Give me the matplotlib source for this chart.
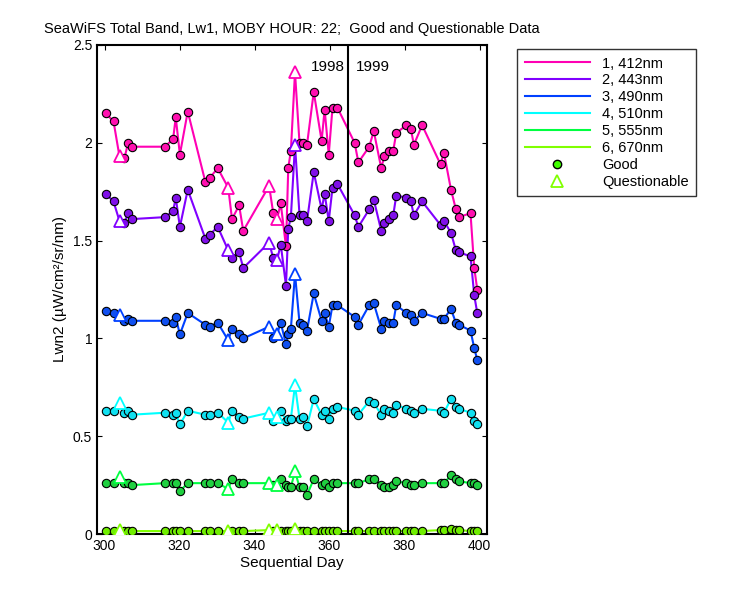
import matplotlib
matplotlib.use("Agg")
import matplotlib.pyplot as plt
import numpy as np
from matplotlib.lines import Line2D
plt.rcParams['font.family'] = 'Liberation Sans'

days = [300.3,302.4,304,305.3,306.3,307.4,316.1,318.3,319,320.1,322.2,326.9,328,330.2,333,334,335.9,337,
        343.9,345,346,347,348.4,349,349.7,350.8,352,352.8,354,355.8,357.9,358.7,359.8,360.8,362.1,
        366.7,367.7,370.6,371.8,373.8,374.6,375.9,377,377.8,380.5,381.7,382.5,384.7,389.6,390.5,392.4,393.7,394.5,397.6,398.6,399.4]
questionable = [304,333,343.9,346,350.8]

s1 = [2.15,2.11,1.93,1.92,2.0,1.98,1.98,2.02,2.13,1.94,2.16,1.80,1.82,1.87,1.77,1.61,1.68,1.55,
      1.78,1.64,1.61,1.69,1.47,1.87,1.96,2.36,2.0,2.0,1.99,2.26,2.01,2.17,1.94,2.18,2.18,
      2.0,1.90,1.98,2.06,1.87,1.93,1.96,1.96,2.05,2.09,2.07,1.99,2.09,1.89,1.95,1.76,1.66,1.62,1.64,1.36,1.25]
s2 = [1.74,1.70,1.60,1.59,1.64,1.61,1.62,1.65,1.72,1.57,1.76,1.51,1.53,1.57,1.45,1.41,1.44,1.36,
      1.49,1.41,1.40,1.48,1.27,1.56,1.62,1.99,1.63,1.63,1.60,1.85,1.66,1.74,1.60,1.77,1.79,
      1.63,1.57,1.66,1.71,1.55,1.59,1.61,1.63,1.73,1.72,1.70,1.63,1.70,1.58,1.60,1.54,1.45,1.44,1.42,1.22,1.13]
s3 = [1.14,1.13,1.12,1.09,1.10,1.09,1.09,1.08,1.11,1.02,1.13,1.07,1.06,1.08,0.99,1.05,1.02,1.00,
      1.06,1.00,1.02,1.08,0.97,1.02,1.05,1.33,1.08,1.07,1.04,1.23,1.09,1.13,1.06,1.17,1.17,
      1.11,1.07,1.17,1.18,1.05,1.09,1.08,1.08,1.17,1.13,1.12,1.09,1.13,1.10,1.10,1.15,1.08,1.07,1.04,0.95,0.89]
s4 = [0.63,0.63,0.67,0.62,0.63,0.61,0.62,0.61,0.62,0.56,0.63,0.61,0.61,0.62,0.57,0.63,0.60,0.59,
      0.62,0.58,0.60,0.63,0.58,0.59,0.59,0.76,0.59,0.60,0.55,0.69,0.61,0.63,0.59,0.64,0.65,
      0.63,0.61,0.68,0.67,0.61,0.64,0.63,0.62,0.66,0.64,0.63,0.62,0.64,0.63,0.62,0.69,0.65,0.64,0.62,0.58,0.56]
s5 = [0.26,0.26,0.29,0.26,0.26,0.25,0.26,0.26,0.26,0.22,0.26,0.26,0.26,0.26,0.23,0.28,0.26,0.26,
      0.26,0.25,0.25,0.28,0.25,0.24,0.24,0.32,0.24,0.24,0.20,0.28,0.25,0.26,0.24,0.26,0.26,
      0.26,0.26,0.28,0.28,0.25,0.24,0.24,0.25,0.27,0.26,0.25,0.25,0.26,0.26,0.26,0.30,0.28,0.27,0.26,0.26,0.25]
s6 = [0.015,0.015,0.02,0.015,0.015,0.015,0.015,0.015,0.015,0.015,0.015,0.015,0.015,0.015,0.015,0.015,0.015,0.015,
      0.02,0.015,0.02,0.015,0.015,0.015,0.015,0.025,0.015,0.015,0.015,0.015,0.015,0.015,0.015,0.015,0.015,
      0.015,0.015,0.015,0.015,0.015,0.015,0.015,0.015,0.015,0.015,0.015,0.015,0.015,0.02,0.02,0.025,0.02,0.02,0.015,0.015,0.015]
labels = ["1, 412nm","2, 443nm","3, 490nm","4, 510nm","5, 555nm","6, 670nm"]
colors = ["#ff00b4","#8000ff","#0040ff","#00ffff","#00ff40","#80ff00"]
fills = ["#ff10b0","#8010e8","#1050f0","#10e0f0","#20d040","#70ee00"]
series = [s1,s2,s3,s4,s5,s6]

fig = plt.figure(figsize=(7.5,6), dpi=100)
ax = fig.add_axes([97/750, 66/600, 390/750, 489/600])
d = np.array(days)
q = np.isin(d, questionable)
for s, c, f, lab in zip(series, colors, fills, labels):
    v = np.array(s)
    ax.plot(d, v, color=c, lw=1.5, label=lab, zorder=2)
    ax.plot(d[~q], v[~q], 'o', ms=6, mfc=f, mec='black', mew=0.8, ls='none', zorder=3)
    ax.plot(d[q], v[q], '^', ms=8, mfc='white', mec=c, mew=1.3, ls='none', zorder=3)
ax.axvline(365, color='black', lw=1.5)
ax.text(364, 2.35, "1998", ha='right', va='bottom', fontsize=11)
ax.text(367, 2.35, "1999", ha='left', va='bottom', fontsize=11)
ax.set_xlim(298, 402)
ax.set_ylim(0, 2.5)
ax.set_xticks([300,320,340,360,380,400])
ax.set_yticks([0,0.5,1,1.5,2,2.5])
ax.set_yticklabels(["0","0.5","1","1.5","2","2.5"])
ax.tick_params(direction='in', top=True, right=True, labelsize=10)
for sp in ax.spines.values():
    sp.set_linewidth(1.5)
ax.set_xlabel("Sequential Day", fontsize=11, labelpad=2)
ax.set_ylabel("Lwn2 (µW/cm²/sr/nm)", fontsize=11)
ax.set_title("SeaWiFS Total Band, Lw1, MOBY HOUR: 22;  Good and Questionable Data", fontsize=10.5, pad=9)
handles, lbls = ax.get_legend_handles_labels()
handles = handles + [Line2D([],[],marker='o',ls='none',mfc='#40ff00',mec='black',ms=6),
                     Line2D([],[],marker='^',ls='none',mfc='white',mec='#80ff00',ms=8,mew=1.3)]
lbls = lbls + ["Good","Questionable"]
leg = fig.legend(handles, lbls, loc='upper left', bbox_to_anchor=(510/750, 1-42/600),
                 frameon=True, fancybox=False, edgecolor='black', fontsize=10.5,
                 handlelength=4.5, borderpad=0.5, labelspacing=0.2)
leg.get_frame().set_linewidth(1)
fig.savefig("out.png", dpi=100)
